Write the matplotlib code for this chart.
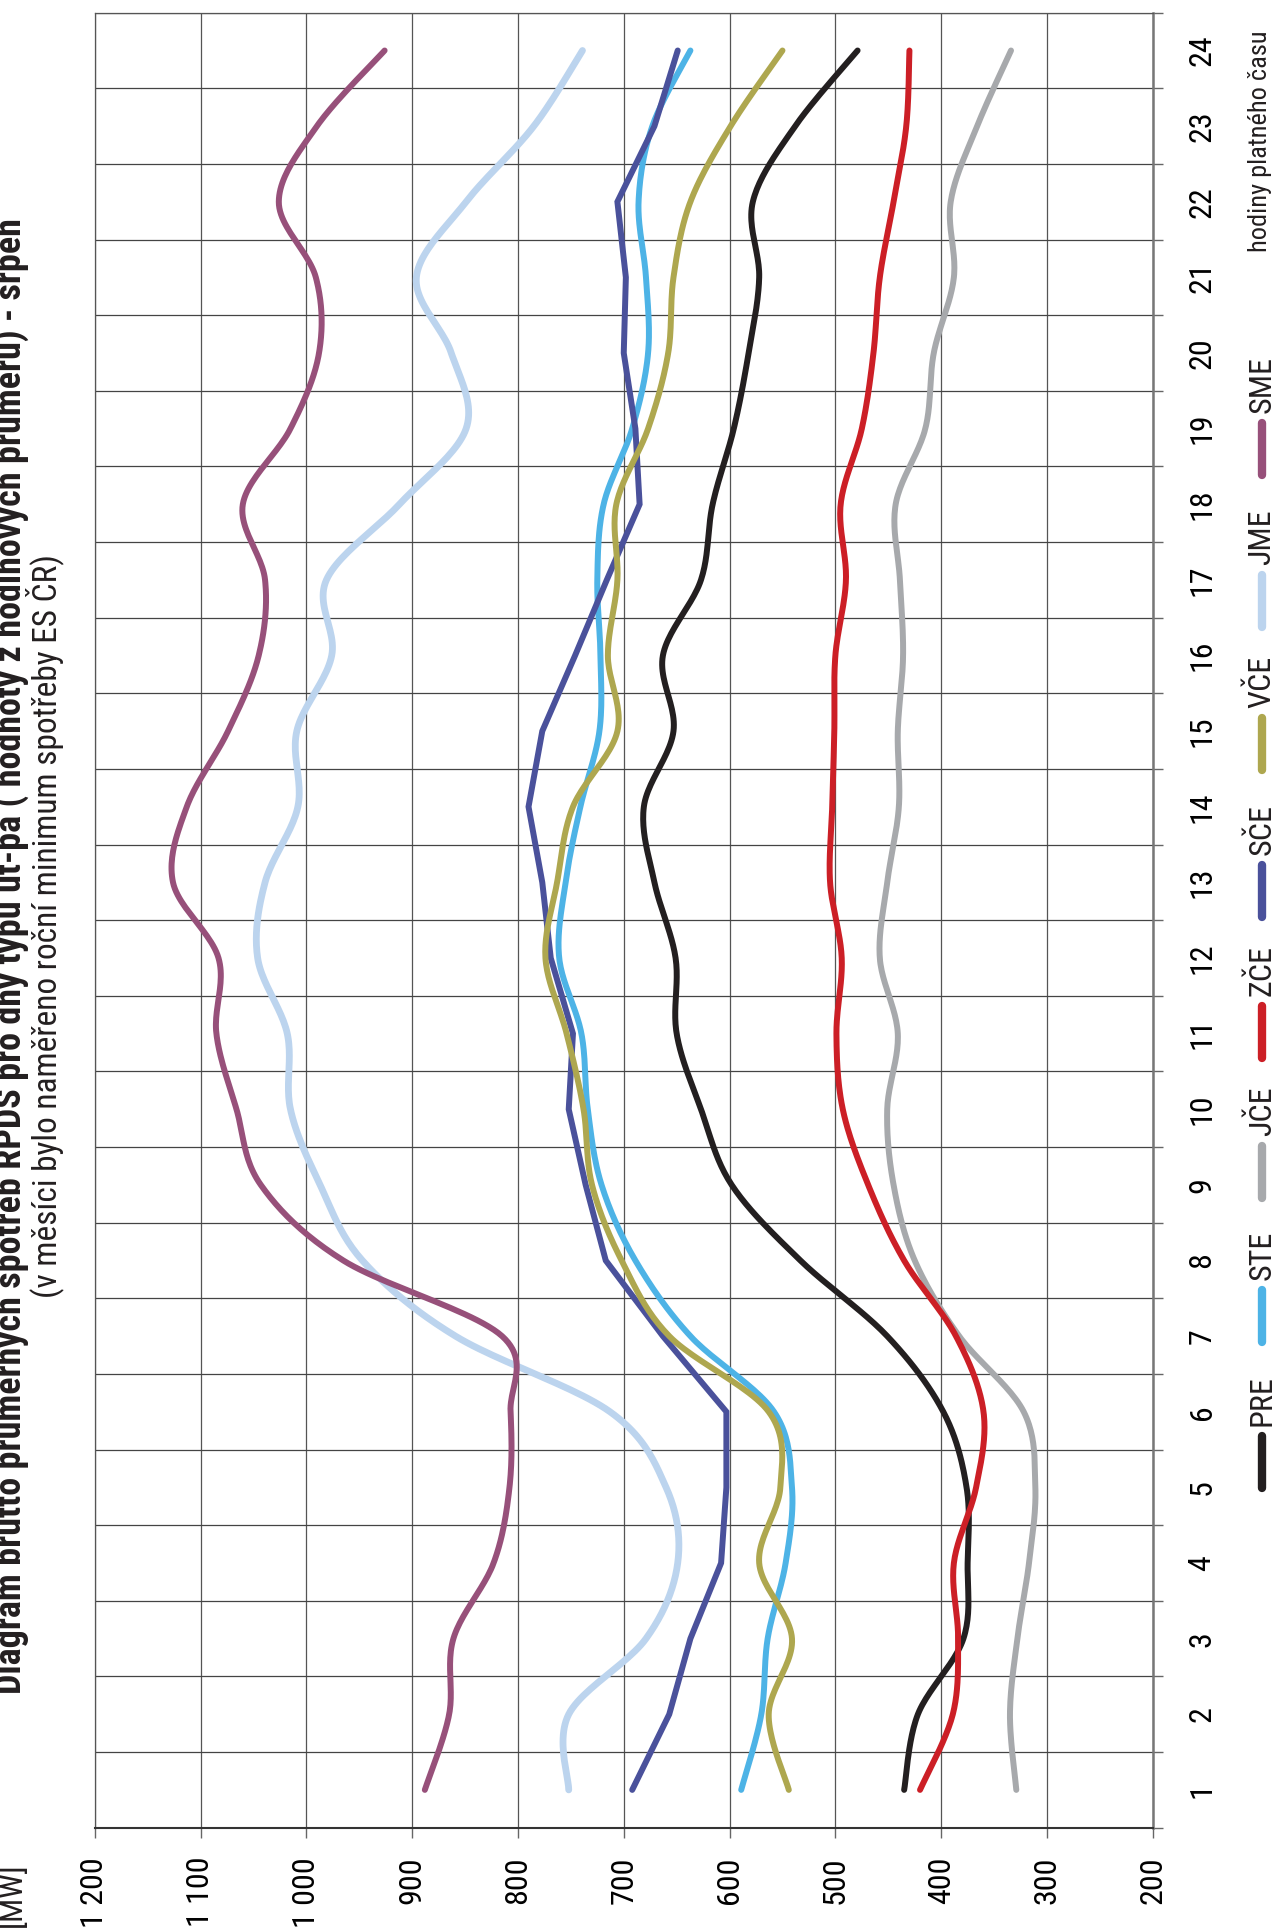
import numpy as np
import matplotlib
matplotlib.use("Agg")
import matplotlib.pyplot as plt
from matplotlib import font_manager
from matplotlib.lines import Line2D

# ---- data: hourly average consumption [MW] per distribution area ----
hours = list(range(1, 25))
PRE = [435, 422, 379, 375, 376, 398, 451, 533, 598, 627, 650, 651, 671, 681, 653, 663, 627, 616, 596, 582, 572, 578, 538, 479]
STE = [589, 570, 564, 547, 541, 558, 637, 689, 721, 734, 740, 761, 755, 741, 723, 722, 725, 719, 692, 677, 679, 686, 673, 637]
JCE = [329, 335, 328, 317, 311, 322, 383, 425, 445, 451, 441, 458, 451, 440, 441, 436, 439, 443, 415, 407, 388, 391, 366, 334]
ZCE = [420, 389, 384, 388, 367, 360, 386, 435, 469, 493, 499, 494, 505, 503, 501, 500, 490, 495, 475, 464, 458, 445, 433, 430]
SCE = [692, 657, 637, 608, 603, 603, 663, 717, 736, 752, 748, 769, 777, 790, 777, 746, 716, 685, 689, 700, 698, 706, 671, 649]
VCE = [544, 563, 541, 572, 552, 563, 657, 702, 730, 738, 754, 774, 763, 748, 706, 715, 706, 707, 677, 658, 653, 637, 599, 550]
JME = [752, 752, 679, 649, 660, 713, 859, 947, 987, 1015, 1018, 1046, 1039, 1008, 1009, 976, 981, 912, 849, 863, 896, 849, 785, 739]
SME = [888, 865, 861, 823, 808, 807, 815, 965, 1043, 1066, 1085, 1083, 1126, 1113, 1074, 1045, 1039, 1060, 1015, 988, 991, 1026, 990, 926]

series_names = ["PRE", "STE", "JČE", "ZČE", "SČE", "VČE", "JME", "SME"]
series_values = [PRE, STE, JCE, ZCE, SCE, VCE, JME, SME]
series_colors = ["#231f20", "#4db3e6", "#a7a9ac", "#cc1f26", "#4a519b", "#aea74f", "#bcd4ee", "#97507a"]
series_smooth = [True, True, True, True, False, True, True, True]

mw_ticks = [200, 300, 400, 500, 600, 700, 800, 900, 1000, 1100, 1200]
mw_labels = ["200", "300", "400", "500", "600", "700", "800", "900", "1 000", "1 100", "1 200"]

title = "Diagram brutto průměrných spotřeb RPDS pro dny typu út-pá ( hodnoty z hodinových průměrů) - srpen"
subtitle = "(v měsíci bylo naměřeno roční minimum spotřeby ES ČR)"
hour_axis_title = "hodiny platného času"
mw_unit = "[MW]"

# ---- fonts ----
available = {f.name for f in font_manager.fontManager.ttflist}
base = "Liberation Sans"
for cand in ["Liberation Sans Narrow", "Roboto Condensed", "Open Sans Condensed", "Arial Narrow"]:
    if cand in available:
        base = cand
        break
plt.rcParams["font.family"] = [base, "DejaVu Sans"]

W, H = 1282, 1930
fig = plt.figure(figsize=(W / 100, H / 100), dpi=100)


def fx(px):
    return px / W


def fy(py):
    return 1 - py / H


def smooth_curve(xs, ys, n=24):
    """Bezier smoothing through every point (Catmull-Rom style)."""
    P = np.column_stack([xs, ys]).astype(float)
    E = np.vstack([P[0], P, P[-1]])
    t = np.linspace(0, 1, n, endpoint=False)[:, None]
    parts = []
    for i in range(len(P) - 1):
        p0, p1, p2, p3 = E[i], E[i + 1], E[i + 2], E[i + 3]
        c1 = p1 + (p2 - p0) / 6.0
        c2 = p2 - (p3 - p1) / 6.0
        parts.append((1 - t) ** 3 * p1 + 3 * (1 - t) ** 2 * t * c1
                     + 3 * (1 - t) * t ** 2 * c2 + t ** 3 * p2)
    parts.append(P[-1:])
    return np.vstack(parts)


# plot area (value axis horizontal, reversed; hours run upward)
left, right, top, bottom = 94.7, 1152.8, 12.7, 1827.7
ax = fig.add_axes([fx(left), fy(bottom), (right - left) / W, (bottom - top) / H])

for name, vals, col, sm in zip(series_names, series_values, series_colors, series_smooth):
    lw = 4.9 if name == "JME" else 4.3
    if sm:
        c = smooth_curve(hours, vals)
        ax.plot(c[:, 1], c[:, 0], color=col, lw=lw, solid_capstyle="round", zorder=3)
    else:
        ax.plot(vals, hours, color=col, lw=lw, solid_capstyle="round",
                solid_joinstyle="miter", zorder=3)

ax.set_xlim(1200, 200)
ax.set_ylim(0.5, 24.5)

ax.set_xticks(mw_ticks)
ax.set_xticklabels(mw_labels, rotation=90, va="top", ha="center")
ax.tick_params(axis="x", which="major", direction="out", length=7, width=1.0,
               color="#666666", pad=14, labelsize=23)

ax.yaxis.tick_right()
ax.set_yticks(hours)
ax.set_yticklabels([str(h) for h in hours], rotation=90, va="center", ha="left")
ax.set_yticks(np.arange(0.5, 25, 1), minor=True)
ax.tick_params(axis="y", which="major", length=0, pad=25, labelsize=23)
ax.tick_params(axis="y", which="minor", direction="out", length=7, width=1.0, color="#666666")

ax.grid(axis="x", which="major", color="#555555", lw=0.9, zorder=1)
ax.grid(axis="y", which="minor", color="#444444", lw=0.9, zorder=1)
ax.grid(axis="y", which="major", visible=False)

for side in ("left", "top"):
    ax.spines[side].set_color("#555555")
    ax.spines[side].set_linewidth(0.9)
ax.spines["bottom"].set_color("#333333")
ax.spines["bottom"].set_linewidth(1.5)
ax.spines["right"].set_color("#777777")
ax.spines["right"].set_linewidth(1.8)

# titles
fig.text(fx(22), fy(956), title, rotation=90, rotation_mode="anchor",
         ha="center", va="baseline", fontsize=26, fontweight="bold", color="#231f20")
fig.text(fx(56), fy(926), subtitle, rotation=90, rotation_mode="anchor",
         ha="center", va="baseline", fontsize=24, color="#231f20")
fig.text(fx(1260), fy(30), hour_axis_title, rotation=90, ha="center", va="top",
         fontsize=19, color="#231f20")
fig.text(fx(12), fy(1862), mw_unit, rotation=90, ha="center", va="top",
         fontsize=23, color="#231f20")

# legend, stacked along the right edge
legend_centers = [1462, 1316, 1172, 1032, 891, 744, 601, 449]
for name, col, yc in zip(series_names, series_colors, legend_centers):
    fig.add_artist(Line2D([fx(1262), fx(1262)], [fy(yc + 26), fy(yc - 26)],
                          color=col, lw=6, solid_capstyle="round"))
    fig.text(fx(1262), fy(yc - 36), name, rotation=90, ha="center", va="bottom",
             fontsize=23, color="#231f20")

fig.savefig("out.png", dpi=100)
